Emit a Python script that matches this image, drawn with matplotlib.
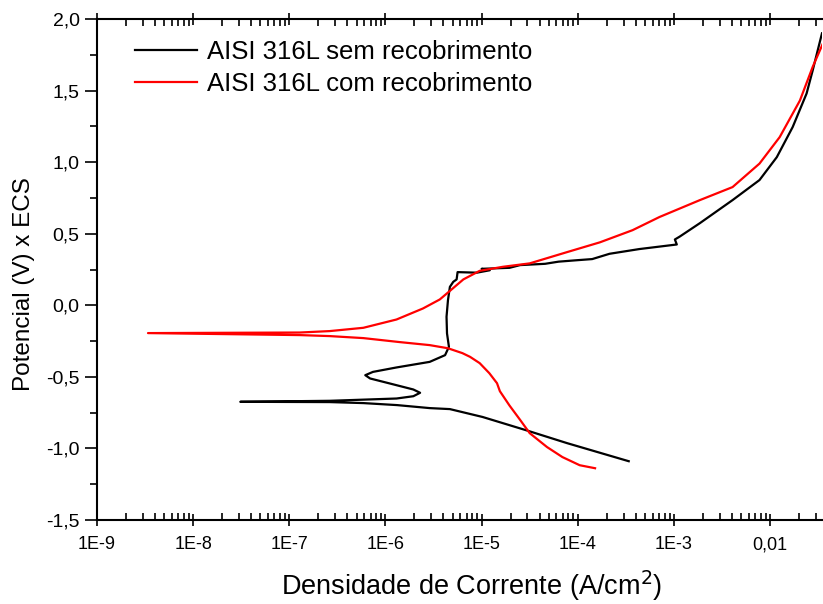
import numpy as np
import matplotlib
matplotlib.use("Agg")
import matplotlib.pyplot as plt
from matplotlib.ticker import FixedLocator, MultipleLocator, FuncFormatter, NullFormatter

plt.rcParams['font.family'] = ['Liberation Sans', 'DejaVu Sans']

# AISI 316L sem recobrimento: log10(i), E (V)
sem_logi = [-3.47, -4.11, -4.54, -4.99, -5.33, -5.54, -5.88, -6.23, -6.58, -7.51,
            -6.58, -5.885, -5.71, -5.64, -5.71, -5.955, -6.16, -6.21, -6.13, -5.885,
            -5.54, -5.38, -5.34, -5.36, -5.365, -5.35, -5.33, -5.295, -5.26,
            -5.25, -5.05, -4.915, -5.0, -4.71, -4.6, -4.34, -4.2, -4.01, -3.85,
            -3.67, -3.36, -2.97, -2.99, -2.94, -2.73, -2.39, -2.11, -1.93, -1.765,
            -1.62, -1.557, -1.46]
sem_E = [-1.089, -0.963, -0.872, -0.78, -0.725, -0.718, -0.697, -0.683, -0.676, -0.674,
         -0.667, -0.651, -0.635, -0.611, -0.588, -0.546, -0.511, -0.488, -0.465, -0.434,
         -0.395, -0.348, -0.29, -0.196, -0.08, 0.036, 0.129, 0.164, 0.181,
         0.232, 0.228, 0.245, 0.255, 0.262, 0.281, 0.29, 0.305, 0.315, 0.323,
         0.36, 0.393, 0.425, 0.46, 0.48, 0.574, 0.735, 0.875, 1.035, 1.245,
         1.48, 1.64, 1.9]

# AISI 316L com recobrimento
com_logi = [-3.82, -3.98, -4.16, -4.32, -4.50, -4.60, -4.71, -4.81, -4.84, -4.92,
            -5.02, -5.12, -5.20, -5.35, -5.54, -5.85, -6.23, -6.58, -6.89, -8.47,
            -6.89, -6.58, -6.23, -5.885, -5.61, -5.435, -5.30, -5.19, -5.02, -4.78,
            -4.50, -4.11, -3.77, -3.43, -3.15, -2.73, -2.39, -2.11, -1.90, -1.69,
            -1.557, -1.45]
com_E = [-1.138, -1.117, -1.06, -0.99, -0.893, -0.80, -0.70, -0.60, -0.544, -0.474,
         -0.404, -0.36, -0.334, -0.30, -0.278, -0.257, -0.229, -0.215, -0.208, -0.194,
         -0.19, -0.18, -0.157, -0.099, -0.022, 0.041, 0.118, 0.181, 0.241, 0.269,
         0.293, 0.372, 0.44, 0.525, 0.617, 0.735, 0.826, 0.99, 1.175, 1.43,
         1.665, 1.83]

x_ticks = [1e-9, 1e-8, 1e-7, 1e-6, 1e-5, 1e-4, 1e-3, 1e-2]
x_labels = ['1E-9', '1E-8', '1E-7', '1E-6', '1E-5', '1E-4', '1E-3', '0,01']

fig = plt.figure(figsize=(8.23, 6.04), dpi=100)
ax = fig.add_axes([0.1179, 0.139, 0.8809, 0.8295])

ax.plot(10 ** np.array(sem_logi), sem_E, color='black', lw=1.6,
        label='AISI 316L sem recobrimento')
ax.plot(10 ** np.array(com_logi), com_E, color='red', lw=1.6,
        label='AISI 316L com recobrimento')

ax.set_xscale('log')
ax.set_xlim(1e-9, 0.0347)
ax.set_ylim(-1.5, 2.0)

minor = [m * 10.0 ** e for e in range(-9, -1) for m in range(2, 10)]
ax.xaxis.set_major_locator(FixedLocator(x_ticks))
ax.xaxis.set_minor_locator(FixedLocator(minor))
ax.set_xticklabels(x_labels)
ax.xaxis.set_minor_formatter(NullFormatter())
ax.yaxis.set_major_locator(MultipleLocator(0.5))
ax.yaxis.set_minor_locator(MultipleLocator(0.25))
ax.yaxis.set_major_formatter(FuncFormatter(lambda v, p: ('%.1f' % v).replace('.', ',')))

ax.tick_params(axis='x', which='major', direction='inout', length=9, width=1.2,
               labelsize=13, top=True, pad=7)
ax.tick_params(axis='x', which='minor', direction='in', length=5, width=1.2, top=True)
ax.tick_params(axis='y', which='major', direction='out', length=9, width=1.2,
               labelsize=14, right=False)
ax.tick_params(axis='y', which='minor', direction='out', length=5, width=1.2, right=False)

for s in ax.spines.values():
    s.set_linewidth(1.5)
ax.spines['right'].set_visible(False)

ax.set_xlabel('Densidade de Corrente (A/cm$^2$)', fontsize=19.5)
ax.xaxis.set_label_coords(0.517, -0.097)
ax.set_ylabel('Potencial (V) x ECS', fontsize=17.5)
ax.yaxis.set_label_coords(-0.0855, 0.472)

ax.legend(loc='upper left', bbox_to_anchor=(0.164, 0.933), bbox_transform=fig.transFigure,
          frameon=False, fontsize=18.5, borderpad=0, borderaxespad=0,
          handlelength=2.4, handletextpad=0.4, labelspacing=0.28)

fig.savefig('out.png', dpi=100)
